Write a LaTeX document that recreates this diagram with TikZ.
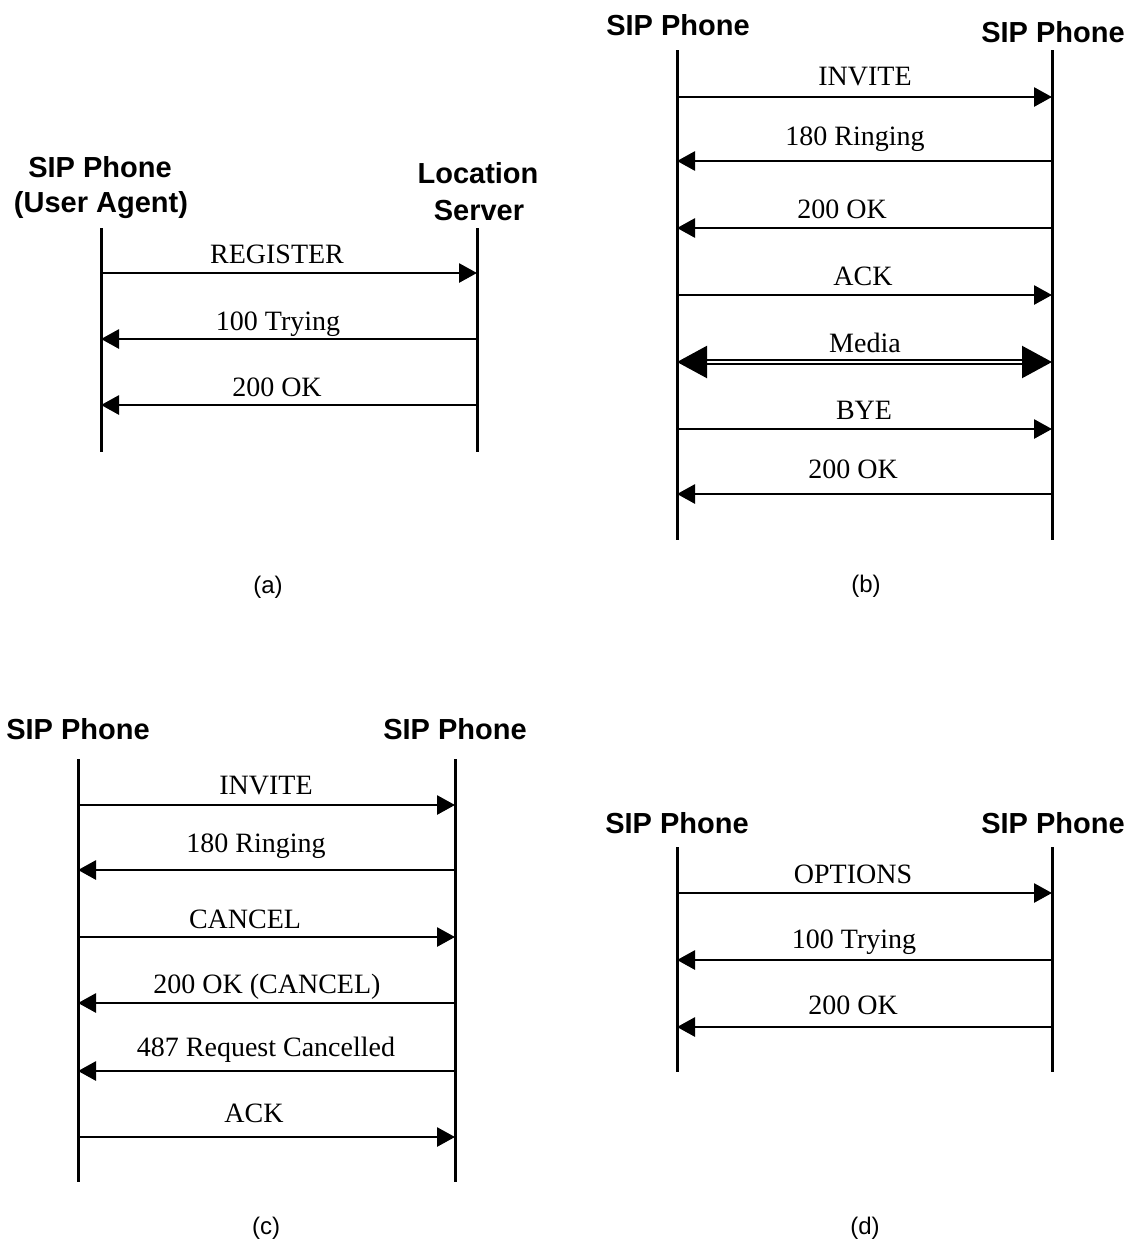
\documentclass[tikz,border=0pt]{standalone}
\usepackage{fontspec}
\setmainfont{Liberation Serif}
\setsansfont{Liberation Sans}
\usetikzlibrary{arrows.meta,positioning,calc}
\tikzset{
  party/.style={font=\sffamily\bfseries\fontsize{29}{31}\selectfont, inner sep=0pt, anchor=base},
  lifeline/.style={line width=3pt},
  msglabel/.style={font=\fontsize{28}{30}\selectfont, inner sep=0pt, anchor=base},
  msg/.style={line width=2.8pt, -{Triangle[length=18pt,width=19pt]}},
  media/.style={double, double distance=2.2pt, line width=2.2pt,
    {Triangle[length=30pt,width=32pt]}-{Triangle[length=30pt,width=32pt]}},
  subcap/.style={font=\sffamily\fontsize{24}{26}\selectfont, inner sep=0pt}
}
\begin{document}
\begin{tikzpicture}[x=1pt,y=-1pt]
  \useasboundingbox (0,0) rectangle (1129,1243);

  % (a) registration
  \node[party] (aPhone) at (100,177) {SIP Phone};
  \node[party] (aAgent) at (101,212) {(User Agent)};
  \node[party] (aLoc) at (478,183) {Location};
  \node[party] (aServer) at (479,220) {Server};
  \coordinate (aLt) at (101,228); \coordinate (aLb) at (101,452);
  \coordinate (aRt) at (477,228); \coordinate (aRb) at (477,452);
  \draw[lifeline] (aLt) -- (aLb);
  \draw[lifeline] (aRt) -- (aRb);
  \coordinate (aL1) at (101,273); \coordinate (aR1) at (477,273);
  \coordinate (aL2) at (101,339); \coordinate (aR2) at (477,339);
  \coordinate (aL3) at (101,405); \coordinate (aR3) at (477,405);
  \draw[msg] (aL1) -- (aR1);
  \draw[msg] (aR2) -- (aL2);
  \draw[msg] (aR3) -- (aL3);
  \node[msglabel] (aMsg1) at (277,263) {REGISTER};
  \node[msglabel] (aMsg2) at (278,330) {100 Trying};
  \node[msglabel] (aMsg3) at (277,396) {200 OK};
  \node[subcap] (aCap) at (268,587) {(a)};

  % (b) call setup and teardown
  \node[party] (bCaller) at (678,35) {SIP Phone};
  \node[party] (bCallee) at (1053,42) {SIP Phone};
  \coordinate (bLt) at (677,50); \coordinate (bLb) at (677,540);
  \coordinate (bRt) at (1052,50); \coordinate (bRb) at (1052,540);
  \draw[lifeline] (bLt) -- (bLb);
  \draw[lifeline] (bRt) -- (bRb);
  \coordinate (bL1) at (677,97); \coordinate (bR1) at (1052,97);
  \coordinate (bL2) at (677,161); \coordinate (bR2) at (1052,161);
  \coordinate (bL3) at (677,228); \coordinate (bR3) at (1052,228);
  \coordinate (bL4) at (677,295); \coordinate (bR4) at (1052,295);
  \coordinate (bL5) at (677,362); \coordinate (bR5) at (1052,362);
  \coordinate (bL6) at (677,429); \coordinate (bR6) at (1052,429);
  \coordinate (bL7) at (677,494); \coordinate (bR7) at (1052,494);
  \draw[msg] (bL1) -- (bR1);
  \draw[msg] (bR2) -- (bL2);
  \draw[msg] (bR3) -- (bL3);
  \draw[msg] (bL4) -- (bR4);
  \draw[media] (bL5) -- (bR5);
  \draw[msg] (bL6) -- (bR6);
  \draw[msg] (bR7) -- (bL7);
  \node[msglabel] (bMsg1) at (865,85) {INVITE};
  \node[msglabel] (bMsg2) at (855,145) {180 Ringing};
  \node[msglabel] (bMsg3) at (842,218) {200 OK};
  \node[msglabel] (bMsg4) at (863,285) {ACK};
  \node[msglabel] (bMsg5) at (865,352) {Media};
  \node[msglabel] (bMsg6) at (864,419) {BYE};
  \node[msglabel] (bMsg7) at (853,478) {200 OK};
  \node[subcap] (bCap) at (866,586) {(b)};

  % (c) cancelled call
  \node[party] (cCaller) at (78,739) {SIP Phone};
  \node[party] (cCallee) at (455,739) {SIP Phone};
  \coordinate (cLt) at (78,759); \coordinate (cLb) at (78,1182);
  \coordinate (cRt) at (455,759); \coordinate (cRb) at (455,1182);
  \draw[lifeline] (cLt) -- (cLb);
  \draw[lifeline] (cRt) -- (cRb);
  \coordinate (cL1) at (78,805); \coordinate (cR1) at (455,805);
  \coordinate (cL2) at (78,870); \coordinate (cR2) at (455,870);
  \coordinate (cL3) at (78,937); \coordinate (cR3) at (455,937);
  \coordinate (cL4) at (78,1003); \coordinate (cR4) at (455,1003);
  \coordinate (cL5) at (78,1071); \coordinate (cR5) at (455,1071);
  \coordinate (cL6) at (78,1137); \coordinate (cR6) at (455,1137);
  \draw[msg] (cL1) -- (cR1);
  \draw[msg] (cR2) -- (cL2);
  \draw[msg] (cL3) -- (cR3);
  \draw[msg] (cR4) -- (cL4);
  \draw[msg] (cR5) -- (cL5);
  \draw[msg] (cL6) -- (cR6);
  \node[msglabel] (cMsg1) at (266,794) {INVITE};
  \node[msglabel] (cMsg2) at (256,852) {180 Ringing};
  \node[msglabel] (cMsg3) at (245,928) {CANCEL};
  \node[msglabel] (cMsg4) at (267,993) {200 OK (CANCEL)};
  \node[msglabel] (cMsg5) at (266,1056) {487 Request Cancelled};
  \node[msglabel] (cMsg6) at (254,1122) {ACK};
  \node[subcap] (cCap) at (266,1228) {(c)};

  % (d) options query
  \node[party] (dCaller) at (677,833) {SIP Phone};
  \node[party] (dCallee) at (1053,833) {SIP Phone};
  \coordinate (dLt) at (677,847); \coordinate (dLb) at (677,1072);
  \coordinate (dRt) at (1052,847); \coordinate (dRb) at (1052,1072);
  \draw[lifeline] (dLt) -- (dLb);
  \draw[lifeline] (dRt) -- (dRb);
  \coordinate (dL1) at (677,893); \coordinate (dR1) at (1052,893);
  \coordinate (dL2) at (677,960); \coordinate (dR2) at (1052,960);
  \coordinate (dL3) at (677,1027); \coordinate (dR3) at (1052,1027);
  \draw[msg] (dL1) -- (dR1);
  \draw[msg] (dR2) -- (dL2);
  \draw[msg] (dR3) -- (dL3);
  \node[msglabel] (dMsg1) at (853,883) {OPTIONS};
  \node[msglabel] (dMsg2) at (854,948) {100 Trying};
  \node[msglabel] (dMsg3) at (853,1014) {200 OK};
  \node[subcap] (dCap) at (865,1228) {(d)};
\end{tikzpicture}
\end{document}
